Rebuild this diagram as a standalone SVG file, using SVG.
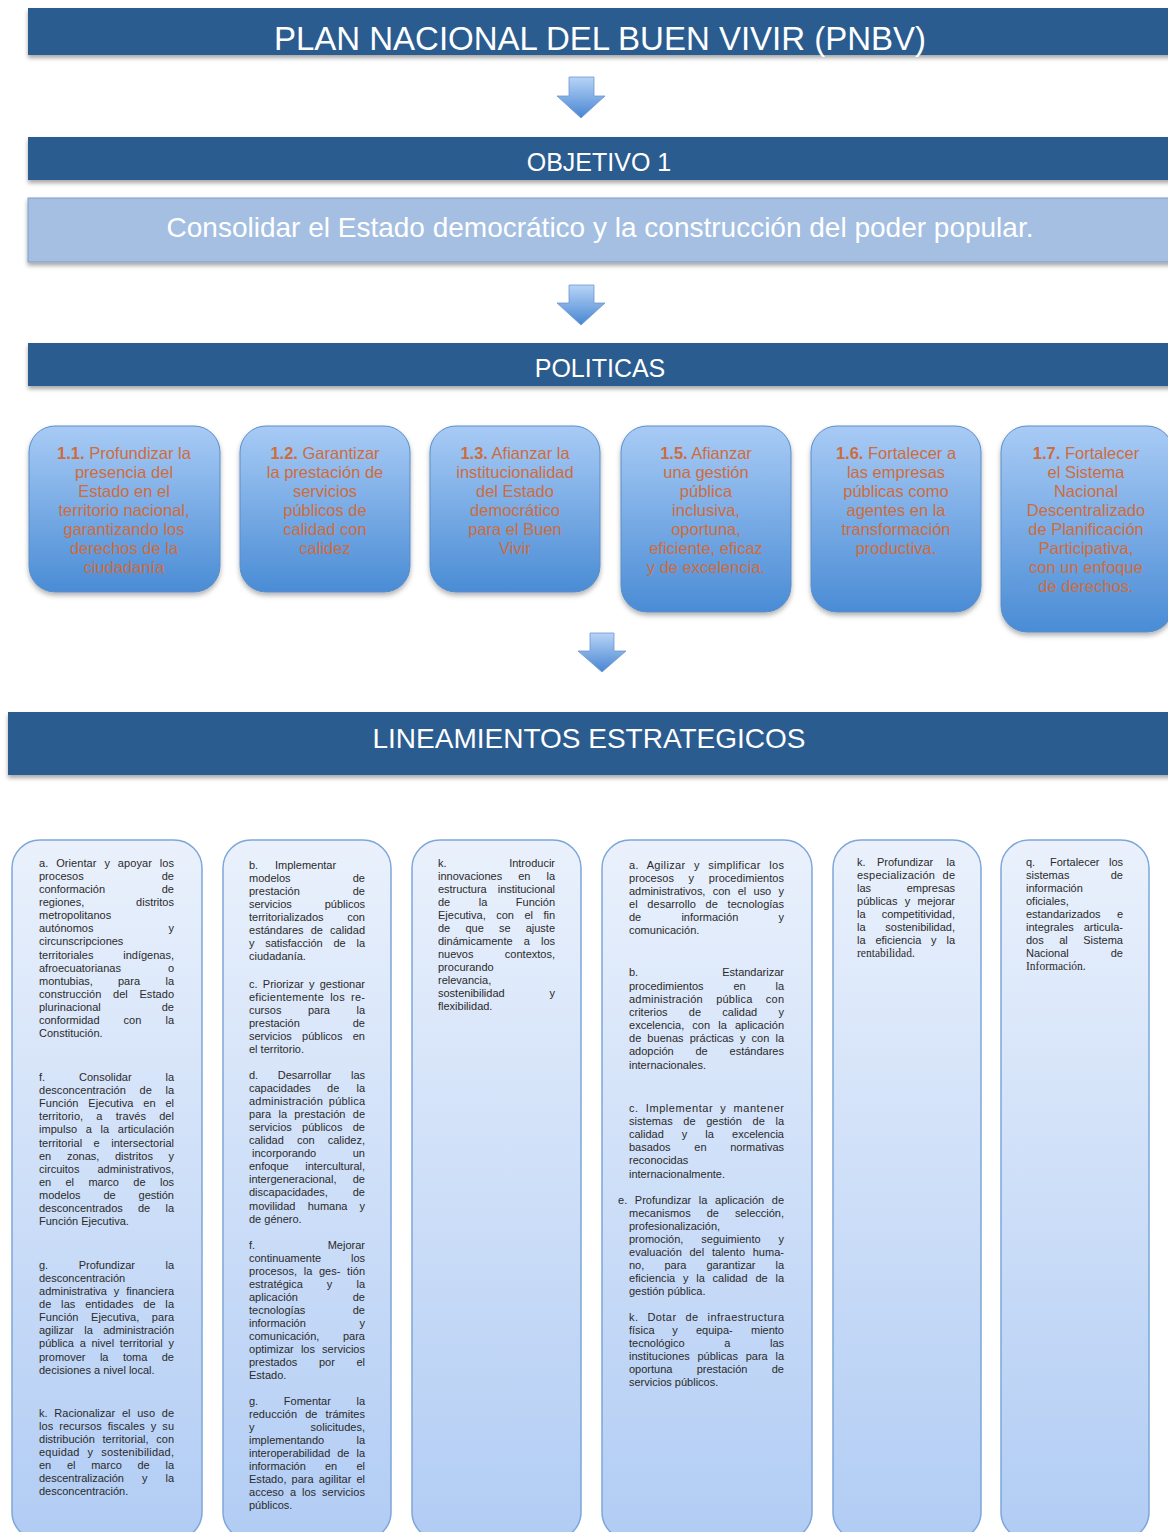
<svg xmlns="http://www.w3.org/2000/svg" width="1168" height="1532" viewBox="0 0 1168 1532">
<defs>
<linearGradient id="polGrad" x1="0" y1="0" x2="0" y2="1">
<stop offset="0" stop-color="#a8cbf5"/><stop offset="1" stop-color="#4a8cd5"/>
</linearGradient>
<linearGradient id="colGrad" x1="0" y1="0" x2="0" y2="1">
<stop offset="0" stop-color="#eaf1fc"/><stop offset="1" stop-color="#b1ccf4"/>
</linearGradient>
<linearGradient id="arrGrad" x1="0" y1="0" x2="0" y2="1">
<stop offset="0" stop-color="#b8d4f6"/><stop offset="1" stop-color="#4886d2"/>
</linearGradient>
<filter id="sh" x="-5%" y="-10%" width="110%" height="130%">
<feDropShadow dx="0" dy="3" stdDeviation="2" flood-color="#000" flood-opacity="0.35"/>
</filter>
<filter id="sh2" x="-10%" y="-10%" width="120%" height="125%">
<feDropShadow dx="0" dy="3" stdDeviation="2.5" flood-color="#000" flood-opacity="0.3"/>
</filter>
</defs>
<style>
.ban{fill:#2a5b8f;filter:url(#sh)}
.bt{font-family:"Liberation Sans",Arial,sans-serif;fill:#fff;text-anchor:middle}
.pol{fill:url(#polGrad);stroke:#5a8dc8;stroke-width:1;filter:url(#sh2)}
.pt{font-family:"Liberation Sans",Arial,sans-serif;font-size:16.5px;fill:#cf6c3d;text-anchor:middle}
.pt tspan.b{font-weight:bold}
.col{fill:url(#colGrad);stroke:#7ea6d8;stroke-width:1.5}
.t{font-family:"Liberation Sans",Arial,sans-serif;font-size:11px;fill:#2a2a2a}
.s{font-family:"Liberation Serif","Times New Roman",serif;font-size:11.5px;fill:#2a2a2a}
.arr{fill:url(#arrGrad);stroke:#6d98cf;stroke-width:0.8}
</style>
<rect width="1168" height="1532" fill="#fff"/>

<g id="pnbv">
<rect class="ban" x="28" y="8" width="1145" height="47"/>
<text class="bt" x="600" y="50" font-size="33">PLAN NACIONAL DEL BUEN VIVIR (PNBV)</text>
</g>
<g id="objetivo">
<rect class="ban" x="28" y="137" width="1145" height="43"/>
<text class="bt" x="599" y="171" font-size="25">OBJETIVO 1</text>
</g>
<g id="objetivo-texto">
<rect x="28" y="198" width="1145" height="64" fill="#a4bfe1" stroke="#7f9fc8" stroke-width="1" filter="url(#sh)"/>
<text class="bt" x="600" y="237" font-size="28">Consolidar el Estado democrático y la construcción del poder popular.</text>
</g>
<g id="politicas">
<rect class="ban" x="28" y="343" width="1145" height="43"/>
<text class="bt" x="600" y="377" font-size="25">POLITICAS</text>
</g>

<g id="pol-1-1">
<rect class="pol" x="29" y="426" width="191" height="166" rx="26"/>
<text class="pt"><tspan x="124" y="459"><tspan class="b">1.1.</tspan> Profundizar la</tspan><tspan x="124" y="478">presencia del</tspan><tspan x="124" y="497">Estado en el</tspan><tspan x="124" y="516">territorio nacional,</tspan><tspan x="124" y="535">garantizando los</tspan><tspan x="124" y="554">derechos de la</tspan><tspan x="124" y="573">ciudadanía</tspan></text>
</g>
<g id="pol-1-2">
<rect class="pol" x="240" y="426" width="170" height="166" rx="26"/>
<text class="pt"><tspan x="325" y="459"><tspan class="b">1.2.</tspan> Garantizar</tspan><tspan x="325" y="478">la prestación de</tspan><tspan x="325" y="497">servicios</tspan><tspan x="325" y="516">públicos de</tspan><tspan x="325" y="535">calidad con</tspan><tspan x="325" y="554">calidez</tspan></text>
</g>
<g id="pol-1-3">
<rect class="pol" x="430" y="426" width="170" height="166" rx="26"/>
<text class="pt"><tspan x="515" y="459"><tspan class="b">1.3.</tspan> Afianzar la</tspan><tspan x="515" y="478">institucionalidad</tspan><tspan x="515" y="497">del Estado</tspan><tspan x="515" y="516">democrático</tspan><tspan x="515" y="535">para el Buen</tspan><tspan x="515" y="554">Vivir</tspan></text>
</g>
<g id="pol-1-5">
<rect class="pol" x="621" y="426" width="170" height="186" rx="26"/>
<text class="pt"><tspan x="706" y="459"><tspan class="b">1.5.</tspan> Afianzar</tspan><tspan x="706" y="478">una gestión</tspan><tspan x="706" y="497">pública</tspan><tspan x="706" y="516">inclusiva,</tspan><tspan x="706" y="535">oportuna,</tspan><tspan x="706" y="554">eficiente, eficaz</tspan><tspan x="706" y="573">y de excelencia.</tspan></text>
</g>
<g id="pol-1-6">
<rect class="pol" x="811" y="426" width="170" height="186" rx="26"/>
<text class="pt"><tspan x="896" y="459"><tspan class="b">1.6.</tspan> Fortalecer a</tspan><tspan x="896" y="478">las empresas</tspan><tspan x="896" y="497">públicas como</tspan><tspan x="896" y="516">agentes en la</tspan><tspan x="896" y="535">transformación</tspan><tspan x="896" y="554">productiva.</tspan></text>
</g>
<g id="pol-1-7">
<rect class="pol" x="1001" y="426" width="172" height="206" rx="26"/>
<text class="pt"><tspan x="1086" y="459"><tspan class="b">1.7.</tspan> Fortalecer</tspan><tspan x="1086" y="478">el Sistema</tspan><tspan x="1086" y="497">Nacional</tspan><tspan x="1086" y="516">Descentralizado</tspan><tspan x="1086" y="535">de Planificación</tspan><tspan x="1086" y="554">Participativa,</tspan><tspan x="1086" y="573">con un enfoque</tspan><tspan x="1086" y="592">de derechos.</tspan></text>
</g>

<g id="lineamientos">
<rect class="ban" x="8" y="712" width="1165" height="63"/>
<text class="bt" x="589" y="748" font-size="28">LINEAMIENTOS ESTRATEGICOS</text>
</g>

<g id="connectors">
<path class="arr" d="M569,77 H594 V96 H605 L581,118 L557,96 H569 Z"/>
<path class="arr" d="M569,285 H594 V303 H605 L581,325 L557,303 H569 Z"/>
<path class="arr" d="M590,633 H614 V651 H626 L602,672 L578,651 H590 Z"/>
</g>

<g id="col-1">
<rect class="col" x="12" y="840" width="190" height="700" rx="28"/>
<text class="t" x="39" y="867" textLength="135" lengthAdjust="spacing" word-spacing="4.8">a. Orientar y apoyar los</text>
<text class="t" y="880"><tspan x="39">procesos</tspan><tspan x="174" text-anchor="end">de</tspan></text>
<text class="t" y="893"><tspan x="39">conformación</tspan><tspan x="174" text-anchor="end">de</tspan></text>
<text class="t" y="906"><tspan x="39">regiones,</tspan><tspan x="174" text-anchor="end">distritos</tspan></text>
<text class="t" x="39" y="919">metropolitanos</text>
<text class="t" y="932"><tspan x="39">autónomos</tspan><tspan x="174" text-anchor="end">y</tspan></text>
<text class="t" x="39" y="945">circunscripciones</text>
<text class="t" y="959"><tspan x="39">territoriales</tspan><tspan x="174" text-anchor="end">indígenas,</tspan></text>
<text class="t" y="972"><tspan x="39">afroecuatorianas</tspan><tspan x="174" text-anchor="end">o</tspan></text>
<text class="t" y="985"><tspan x="39">montubias,</tspan><tspan x="118">para</tspan><tspan x="174" text-anchor="end">la</tspan></text>
<text class="t" x="39" y="998" textLength="135" lengthAdjust="spacing" word-spacing="8.5">construcción del Estado</text>
<text class="t" y="1011"><tspan x="39">plurinacional</tspan><tspan x="174" text-anchor="end">de</tspan></text>
<text class="t" y="1024"><tspan x="39">conformidad</tspan><tspan x="123.6">con</tspan><tspan x="174" text-anchor="end">la</tspan></text>
<text class="t" x="39" y="1037">Constitución.</text>

<text class="t" y="1081"><tspan x="39">f.</tspan><tspan x="79">Consolidar</tspan><tspan x="174" text-anchor="end">la</tspan></text>
<text class="t" x="39" y="1094" textLength="135" lengthAdjust="spacing" word-spacing="10.5">desconcentración de la</text>
<text class="t" x="39" y="1107" textLength="135" lengthAdjust="spacing" word-spacing="6.7">Función Ejecutiva en el</text>
<text class="t" x="39" y="1120" textLength="135" lengthAdjust="spacing" word-spacing="10">territorio, a través del</text>
<text class="t" x="39" y="1133" textLength="135" lengthAdjust="spacing" word-spacing="5.5">impulso a la articulación</text>
<text class="t" x="39" y="1147" textLength="135" lengthAdjust="spacing" word-spacing="8.3">territorial e intersectorial</text>
<text class="t" y="1160"><tspan x="39">en</tspan><tspan x="66.9">zonas,</tspan><tspan x="115">distritos</tspan><tspan x="174" text-anchor="end">y</tspan></text>
<text class="t" x="39" y="1173" textLength="135" lengthAdjust="spacing" word-spacing="15">circuitos administrativos,</text>
<text class="t" y="1186"><tspan x="39">en</tspan><tspan x="65.5">el</tspan><tspan x="88.4">marco</tspan><tspan x="133.3">de</tspan><tspan x="174" text-anchor="end">los</tspan></text>
<text class="t" y="1199"><tspan x="39">modelos</tspan><tspan x="103.5">de</tspan><tspan x="174" text-anchor="end">gestión</tspan></text>
<text class="t" y="1212"><tspan x="39">desconcentrados</tspan><tspan x="137.9">de</tspan><tspan x="174" text-anchor="end">la</tspan></text>
<text class="t" x="39" y="1225">Función Ejecutiva.</text>

<text class="t" y="1269"><tspan x="39">g.</tspan><tspan x="78.7">Profundizar</tspan><tspan x="174" text-anchor="end">la</tspan></text>
<text class="t" x="39" y="1282">desconcentración</text>
<text class="t" x="39" y="1295" textLength="135" lengthAdjust="spacing" word-spacing="3.8">administrativa y financiera</text>
<text class="t" x="39" y="1308" textLength="135" lengthAdjust="spacing" word-spacing="6.6">de las entidades de la</text>
<text class="t" x="39" y="1321" textLength="135" lengthAdjust="spacing" word-spacing="9.5">Función Ejecutiva, para</text>
<text class="t" x="39" y="1334" textLength="135" lengthAdjust="spacing" word-spacing="7.4">agilizar la administración</text>
<text class="t" x="39" y="1347" textLength="135" lengthAdjust="spacing" word-spacing="2.6">pública a nivel territorial y</text>
<text class="t" y="1361"><tspan x="39">promover</tspan><tspan x="99.9">la</tspan><tspan x="122.9">toma</tspan><tspan x="174" text-anchor="end">de</tspan></text>
<text class="t" x="39" y="1374">decisiones a nivel local.</text>

<text class="t" x="39" y="1417" textLength="135" lengthAdjust="spacing" word-spacing="3.6">k. Racionalizar el uso de</text>
<text class="t" x="39" y="1430" textLength="135" lengthAdjust="spacing" word-spacing="3">los recursos fiscales y su</text>
<text class="t" x="39" y="1443" textLength="135" lengthAdjust="spacing" word-spacing="4.6">distribución territorial, con</text>
<text class="t" x="39" y="1456" textLength="135" lengthAdjust="spacing" word-spacing="4.6">equidad y sostenibilidad,</text>
<text class="t" y="1469"><tspan x="39">en</tspan><tspan x="66.9">el</tspan><tspan x="91.2">marco</tspan><tspan x="137.5">de</tspan><tspan x="174" text-anchor="end">la</tspan></text>
<text class="t" y="1482"><tspan x="39">descentralización</tspan><tspan x="142">y</tspan><tspan x="174" text-anchor="end">la</tspan></text>
<text class="t" x="39" y="1495">desconcentración.</text>
</g>

<g id="col-2">
<rect class="col" x="223" y="840" width="168" height="700" rx="28"/>
<text class="t" y="869"><tspan x="249">b.</tspan><tspan x="275">Implementar</tspan></text>
<text class="t" y="882"><tspan x="249">modelos</tspan><tspan x="365" text-anchor="end">de</tspan></text>
<text class="t" y="895"><tspan x="249">prestación</tspan><tspan x="365" text-anchor="end">de</tspan></text>
<text class="t" y="908"><tspan x="249">servicios</tspan><tspan x="365" text-anchor="end">públicos</tspan></text>
<text class="t" y="921"><tspan x="249">territorializados</tspan><tspan x="365" text-anchor="end">con</tspan></text>
<text class="t" x="249" y="934" textLength="116" lengthAdjust="spacing" word-spacing="4">estándares de calidad</text>
<text class="t" y="947"><tspan x="249">y</tspan><tspan x="265.2">satisfacción</tspan><tspan x="333.4">de</tspan><tspan x="365" text-anchor="end">la</tspan></text>
<text class="t" x="249" y="960">ciudadanía.</text>

<text class="t" x="249" y="988" textLength="116" lengthAdjust="spacing" word-spacing="2.2">c. Priorizar y gestionar</text>
<text class="t" x="249" y="1001" textLength="116" lengthAdjust="spacing" word-spacing="2.8">eficientemente los re-</text>
<text class="t" y="1014"><tspan x="249">cursos</tspan><tspan x="307.9">para</tspan><tspan x="365" text-anchor="end">la</tspan></text>
<text class="t" y="1027"><tspan x="249">prestación</tspan><tspan x="365" text-anchor="end">de</tspan></text>
<text class="t" y="1040"><tspan x="249">servicios</tspan><tspan x="302.1">públicos</tspan><tspan x="365" text-anchor="end">en</tspan></text>
<text class="t" x="249" y="1053">el territorio.</text>

<text class="t" y="1079"><tspan x="249">d.</tspan><tspan x="277.7">Desarrollar</tspan><tspan x="365" text-anchor="end">las</tspan></text>
<text class="t" y="1092"><tspan x="249">capacidades</tspan><tspan x="327.1">de</tspan><tspan x="365" text-anchor="end">la</tspan></text>
<text class="t" x="249" y="1105" textLength="116" lengthAdjust="spacing" word-spacing="2.5">administración pública</text>
<text class="t" x="249" y="1118" textLength="116" lengthAdjust="spacing" word-spacing="4.2">para la prestación de</text>
<text class="t" y="1131"><tspan x="249">servicios</tspan><tspan x="302.1">públicos</tspan><tspan x="365" text-anchor="end">de</tspan></text>
<text class="t" y="1144"><tspan x="249">calidad</tspan><tspan x="296.9">con</tspan><tspan x="365" text-anchor="end">calidez,</tspan></text>
<text class="t" y="1157"><tspan x="252">incorporando</tspan><tspan x="365" text-anchor="end">un</tspan></text>
<text class="t" x="249" y="1170" textLength="116" lengthAdjust="spacing" word-spacing="13.5">enfoque intercultural,</text>
<text class="t" y="1183"><tspan x="249">intergeneracional,</tspan><tspan x="365" text-anchor="end">de</tspan></text>
<text class="t" y="1196"><tspan x="249">discapacidades,</tspan><tspan x="365" text-anchor="end">de</tspan></text>
<text class="t" y="1210"><tspan x="249">movilidad</tspan><tspan x="307.7">humana</tspan><tspan x="365" text-anchor="end">y</tspan></text>
<text class="t" x="249" y="1223">de género.</text>

<text class="t" y="1249"><tspan x="249">f.</tspan><tspan x="365" text-anchor="end">Mejorar</tspan></text>
<text class="t" y="1262"><tspan x="249">continuamente</tspan><tspan x="365" text-anchor="end">los</tspan></text>
<text class="t" x="249" y="1275" textLength="116" lengthAdjust="spacing" word-spacing="3.5">procesos, la ges- tión</text>
<text class="t" y="1288"><tspan x="249">estratégica</tspan><tspan x="326.8">y</tspan><tspan x="365" text-anchor="end">la</tspan></text>
<text class="t" y="1301"><tspan x="249">aplicación</tspan><tspan x="365" text-anchor="end">de</tspan></text>
<text class="t" y="1314"><tspan x="249">tecnologías</tspan><tspan x="365" text-anchor="end">de</tspan></text>
<text class="t" y="1327"><tspan x="249">información</tspan><tspan x="365" text-anchor="end">y</tspan></text>
<text class="t" y="1340"><tspan x="249">comunicación,</tspan><tspan x="365" text-anchor="end">para</tspan></text>
<text class="t" x="249" y="1353" textLength="116" lengthAdjust="spacing" word-spacing="4">optimizar los servicios</text>
<text class="t" y="1366"><tspan x="249">prestados</tspan><tspan x="318.9">por</tspan><tspan x="365" text-anchor="end">el</tspan></text>
<text class="t" x="249" y="1379">Estado.</text>

<text class="t" y="1405"><tspan x="249">g.</tspan><tspan x="283.8">Fomentar</tspan><tspan x="365" text-anchor="end">la</tspan></text>
<text class="t" x="249" y="1418" textLength="116" lengthAdjust="spacing" word-spacing="5">reducción de trámites</text>
<text class="t" y="1431"><tspan x="249">y</tspan><tspan x="365" text-anchor="end">solicitudes,</tspan></text>
<text class="t" y="1444"><tspan x="249">implementando</tspan><tspan x="365" text-anchor="end">la</tspan></text>
<text class="t" x="249" y="1457" textLength="116" lengthAdjust="spacing" word-spacing="3.9">interoperabilidad de la</text>
<text class="t" y="1470"><tspan x="249">información</tspan><tspan x="325">en</tspan><tspan x="365" text-anchor="end">el</tspan></text>
<text class="t" x="249" y="1483" textLength="116" lengthAdjust="spacing" word-spacing="2">Estado, para agilitar el</text>
<text class="t" x="249" y="1496" textLength="116" lengthAdjust="spacing" word-spacing="2.8">acceso a los servicios</text>
<text class="t" x="249" y="1509">públicos.</text>
</g>

<g id="col-3">
<rect class="col" x="412" y="840" width="169" height="700" rx="28"/>
<text class="t" y="867"><tspan x="438">k.</tspan><tspan x="555" text-anchor="end">Introducir</tspan></text>
<text class="t" y="880"><tspan x="438">innovaciones</tspan><tspan x="518.2">en</tspan><tspan x="555" text-anchor="end">la</tspan></text>
<text class="t" x="438" y="893" textLength="117" lengthAdjust="spacing" word-spacing="8">estructura institucional</text>
<text class="t" y="906"><tspan x="438">de</tspan><tspan x="478.7">la</tspan><tspan x="555" text-anchor="end">Función</tspan></text>
<text class="t" y="919"><tspan x="438">Ejecutiva,</tspan><tspan x="496.2">con</tspan><tspan x="524.4">el</tspan><tspan x="555" text-anchor="end">fin</tspan></text>
<text class="t" y="932"><tspan x="438">de</tspan><tspan x="465.4">que</tspan><tspan x="498.9">se</tspan><tspan x="555" text-anchor="end">ajuste</tspan></text>
<text class="t" y="945"><tspan x="438">dinámicamente</tspan><tspan x="523.7">a</tspan><tspan x="555" text-anchor="end">los</tspan></text>
<text class="t" y="958"><tspan x="438">nuevos</tspan><tspan x="555" text-anchor="end">contextos,</tspan></text>
<text class="t" x="438" y="971">procurando</text>
<text class="t" x="438" y="984">relevancia,</text>
<text class="t" y="997"><tspan x="438">sostenibilidad</tspan><tspan x="555" text-anchor="end">y</tspan></text>
<text class="t" x="438" y="1010">flexibilidad.</text>
</g>

<g id="col-4">
<rect class="col" x="602" y="840" width="210" height="700" rx="28"/>
<text class="t" x="629" y="869" textLength="155" lengthAdjust="spacing" word-spacing="5">a.  Agilizar y simplificar los</text>
<text class="t" x="629" y="882" textLength="155" lengthAdjust="spacing" word-spacing="11.5">procesos y procedimientos</text>
<text class="t" x="629" y="895" textLength="155" lengthAdjust="spacing" word-spacing="4.2">administrativos, con el uso y</text>
<text class="t" x="629" y="908" textLength="155" lengthAdjust="spacing" word-spacing="6.7">el desarrollo de tecnologías</text>
<text class="t" y="921"><tspan x="629">de</tspan><tspan x="681.4">información</tspan><tspan x="784" text-anchor="end">y</tspan></text>
<text class="t" x="629" y="934">comunicación.</text>

<text class="t" y="976"><tspan x="629">b.</tspan><tspan x="784" text-anchor="end">Estandarizar</tspan></text>
<text class="t" y="990"><tspan x="629">procedimientos</tspan><tspan x="733.4">en</tspan><tspan x="784" text-anchor="end">la</tspan></text>
<text class="t" x="629" y="1003" textLength="155" lengthAdjust="spacing" word-spacing="10">administración pública con</text>
<text class="t" y="1016"><tspan x="629">criterios</tspan><tspan x="688.8">de</tspan><tspan x="722.3">calidad</tspan><tspan x="784" text-anchor="end">y</tspan></text>
<text class="t" x="629" y="1029" textLength="155" lengthAdjust="spacing" word-spacing="5">excelencia, con la aplicación</text>
<text class="t" x="629" y="1042" textLength="155" lengthAdjust="spacing" word-spacing="3">de buenas prácticas y con la</text>
<text class="t" y="1055"><tspan x="629">adopción</tspan><tspan x="695.5">de</tspan><tspan x="784" text-anchor="end">estándares</tspan></text>
<text class="t" x="629" y="1069">internacionales.</text>

<text class="t" x="629" y="1112" textLength="155" lengthAdjust="spacing" word-spacing="3.4">c.   Implementar y mantener</text>
<text class="t" x="629" y="1125" textLength="155" lengthAdjust="spacing" word-spacing="7.5">sistemas de gestión de la</text>
<text class="t" y="1138"><tspan x="629">calidad</tspan><tspan x="681.8">y</tspan><tspan x="705.3">la</tspan><tspan x="784" text-anchor="end">excelencia</tspan></text>
<text class="t" y="1151"><tspan x="629">basados</tspan><tspan x="694.3">en</tspan><tspan x="784" text-anchor="end">normativas</tspan></text>
<text class="t" x="629" y="1164">reconocidas</text>
<text class="t" x="629" y="1178">internacionalmente.</text>

<text class="t" x="618" y="1204" textLength="166" lengthAdjust="spacing" word-spacing="4.5">e. Profundizar la aplicación de</text>
<text class="t" y="1217"><tspan x="629">mecanismos</tspan><tspan x="706.7">de</tspan><tspan x="784" text-anchor="end">selección,</tspan></text>
<text class="t" x="629" y="1230">profesionalización,</text>
<text class="t" y="1243"><tspan x="629">promoción,</tspan><tspan x="701.3">seguimiento</tspan><tspan x="784" text-anchor="end">y</tspan></text>
<text class="t" x="629" y="1256" textLength="155" lengthAdjust="spacing" word-spacing="4.6">evaluación del talento huma-</text>
<text class="t" y="1269"><tspan x="629">no,</tspan><tspan x="664.4">para</tspan><tspan x="706.5">garantizar</tspan><tspan x="784" text-anchor="end">la</tspan></text>
<text class="t" x="629" y="1282" textLength="155" lengthAdjust="spacing" word-spacing="4.6">eficiencia y la calidad de la</text>
<text class="t" x="629" y="1295">gestión pública.</text>

<text class="t" x="629" y="1321" textLength="155" lengthAdjust="spacing" word-spacing="5.5">k. Dotar de infraestructura</text>
<text class="t" y="1334"><tspan x="629">física</tspan><tspan x="672.3">y</tspan><tspan x="696">equipa-</tspan><tspan x="784" text-anchor="end">miento</tspan></text>
<text class="t" y="1347"><tspan x="629">tecnológico</tspan><tspan x="724.2">a</tspan><tspan x="784" text-anchor="end">las</tspan></text>
<text class="t" x="629" y="1360" textLength="155" lengthAdjust="spacing" word-spacing="4.6">instituciones públicas para la</text>
<text class="t" y="1373"><tspan x="629">oportuna</tspan><tspan x="696.7">prestación</tspan><tspan x="784" text-anchor="end">de</tspan></text>
<text class="t" x="629" y="1386">servicios públicos.</text>
</g>

<g id="col-5">
<rect class="col" x="833" y="840" width="148" height="700" rx="28"/>
<text class="t" y="866"><tspan x="857">k.</tspan><tspan x="877">Profundizar</tspan><tspan x="955" text-anchor="end">la</tspan></text>
<text class="t" x="857" y="879" textLength="98" lengthAdjust="spacing" word-spacing="4">especialización de</text>
<text class="t" y="892"><tspan x="857">las</tspan><tspan x="955" text-anchor="end">empresas</tspan></text>
<text class="t" x="857" y="905" textLength="98" lengthAdjust="spacing" word-spacing="4.2">públicas y mejorar</text>
<text class="t" y="918"><tspan x="857">la</tspan><tspan x="955" text-anchor="end">competitividad,</tspan></text>
<text class="t" y="931"><tspan x="857">la</tspan><tspan x="955" text-anchor="end">sostenibilidad,</tspan></text>
<text class="t" y="944"><tspan x="857">la</tspan><tspan x="875.4">eficiencia</tspan><tspan x="931">y</tspan><tspan x="955" text-anchor="end">la</tspan></text>
<text class="s" x="857" y="957">rentabilidad.</text>
</g>

<g id="col-6">
<rect class="col" x="1001" y="840" width="148" height="700" rx="28"/>
<text class="t" y="866"><tspan x="1026">q.</tspan><tspan x="1050">Fortalecer</tspan><tspan x="1123" text-anchor="end">los</tspan></text>
<text class="t" y="879"><tspan x="1026">sistemas</tspan><tspan x="1123" text-anchor="end">de</tspan></text>
<text class="t" x="1026" y="892">información</text>
<text class="t" x="1026" y="905">oficiales,</text>
<text class="t" y="918"><tspan x="1026">estandarizados</tspan><tspan x="1123" text-anchor="end">e</tspan></text>
<text class="t" x="1026" y="931" textLength="97" lengthAdjust="spacing" word-spacing="6.8">integrales articula-</text>
<text class="t" y="944"><tspan x="1026">dos</tspan><tspan x="1059.2">al</tspan><tspan x="1123" text-anchor="end">Sistema</tspan></text>
<text class="t" y="957"><tspan x="1026">Nacional</tspan><tspan x="1123" text-anchor="end">de</tspan></text>
<text class="s" x="1026" y="970">Información.</text>
</g>
</svg>
